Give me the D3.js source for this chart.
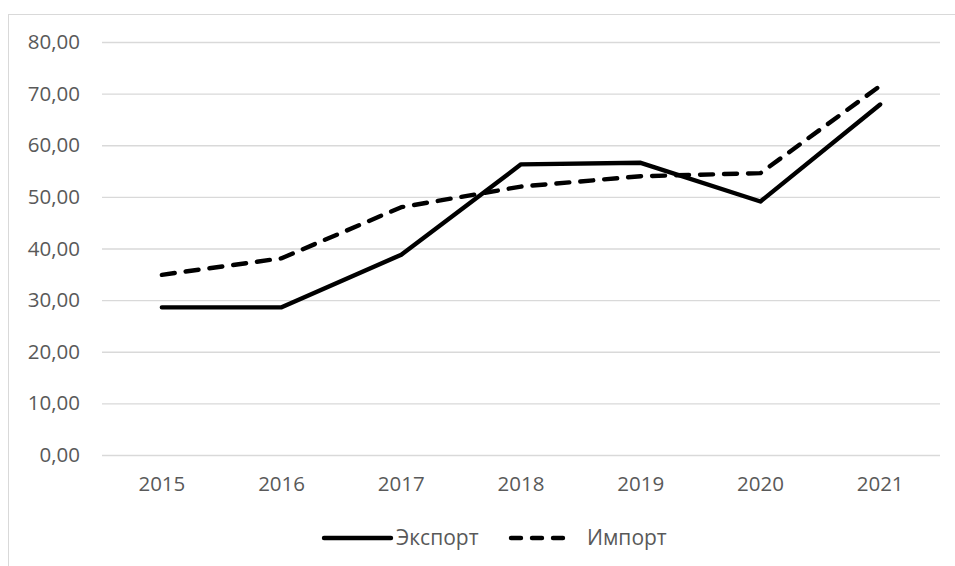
<!DOCTYPE html>
<html><head><meta charset="utf-8">
<script src="https://cdn.jsdelivr.net/npm/d3@7"></script>
<style>body{margin:0;background:#fff}svg{display:block}text{font-family:"Open Sans",sans-serif;fill:#595959}</style>
</head><body><svg id="c" width="955" height="566"></svg>
<script>
const years = ["2015","2016","2017","2018","2019","2020","2021"];
const exportVals = [28.6, 28.6, 38.8, 56.3, 56.6, 49.1, 67.9];
const importVals = [34.9, 38.1, 48.0, 52.0, 54.0, 54.6, 71.5];
const yTicks = [0,10,20,30,40,50,60,70,80];
const seriesNames = ["Экспорт","Импорт"];

const svg = d3.select("#c");
svg.append("rect").attr("x",8.5).attr("y",14.5).attr("width",960).attr("height",570)
  .attr("fill","#fff").attr("stroke","#d9d9d9");

const x = d3.scaleBand().domain(years).range([102,940]);
const y = d3.scaleLinear().domain([0,80]).range([455,42]);
const fmt = v => d3.format(".2f")(v).replace(".",",");

const yAxis = svg.append("g").attr("transform","translate(102,0)")
  .call(d3.axisLeft(y).tickValues(yTicks).tickFormat(fmt).tickSize(-838).tickPadding(22));
yAxis.select(".domain").remove();
yAxis.selectAll("line").attr("stroke","#d9d9d9").attr("stroke-width",1.3);
yAxis.selectAll("text").attr("font-size",20.5).style("fill","#595959");

const xAxis = svg.append("g").attr("transform","translate(0,455)")
  .call(d3.axisBottom(x).tickSize(0).tickPadding(21));
xAxis.select(".domain").remove();
xAxis.selectAll("text").attr("font-size",20.5).style("fill","#595959");

const line = d3.line().x((d,i)=>x(years[i])+x.bandwidth()/2).y(d=>y(d));
svg.append("path").datum(exportVals).attr("d",line).attr("fill","none")
  .attr("stroke","#000").attr("stroke-width",4.4).attr("stroke-linejoin","round").attr("stroke-linecap","round");
svg.append("path").datum(importVals).attr("d",line).attr("fill","none")
  .attr("stroke","#000").attr("stroke-width",4.4).attr("stroke-dasharray","13,11").attr("stroke-linecap","round").attr("stroke-linejoin","round");

// legend
const lg = svg.append("g");
const items = [{name:seriesNames[0], x:322, dash:null, tx:396},{name:seriesNames[1], x:509, dash:"10,11", tx:587}];
items.forEach(it=>{
  lg.append("line").attr("x1",it.x+2).attr("x2",it.x+(it.dash?62:69)).attr("y1",538).attr("y2",538)
    .attr("stroke","#000").attr("stroke-width",4.4).attr("stroke-linecap","round")
    .attr("stroke-dasharray",it.dash);
  lg.append("text").attr("x",it.tx).attr("y",538).attr("dy","0.35em").attr("font-size",21).text(it.name);
});
</script></body></html>
